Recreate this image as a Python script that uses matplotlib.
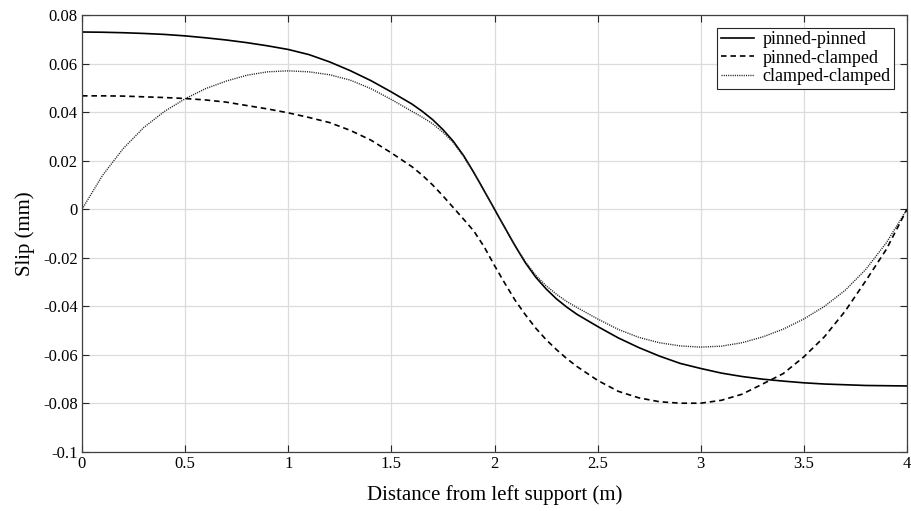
import matplotlib
matplotlib.use("Agg")
import matplotlib.pyplot as plt

plt.rcParams['font.family'] = ['Liberation Serif', 'DejaVu Serif']
plt.rcParams['axes.unicode_minus'] = False
plt.rcParams['lines.scale_dashes'] = False

x = [0.0, 0.1, 0.2, 0.3, 0.4, 0.5, 0.6, 0.7, 0.8, 0.9,
     1.0, 1.1, 1.2, 1.3, 1.4, 1.5, 1.6, 1.65, 1.7, 1.75, 1.8, 1.85, 1.9, 1.95,
     2.0, 2.05, 2.1, 2.15, 2.2, 2.25, 2.3, 2.35, 2.4, 2.5, 2.6, 2.7, 2.8, 2.9,
     3.0, 3.1, 3.2, 3.3, 3.4, 3.5, 3.6, 3.7, 3.8, 3.9, 4.0]

pinned_pinned = [0.0730, 0.0729, 0.0727, 0.0724, 0.0720, 0.0714, 0.0706, 0.0697, 0.0686, 0.0673,
                 0.0658, 0.0637, 0.0607, 0.0571, 0.0530, 0.0483, 0.0433, 0.0403, 0.0369, 0.0328,
                 0.0280, 0.0221, 0.0151, 0.0076,
                 0.0000, -0.0076, -0.0151, -0.0221, -0.0280, -0.0328, -0.0369, -0.0403, -0.0433,
                 -0.0483, -0.0530, -0.0570, -0.0605, -0.0635,
                 -0.0656, -0.0675, -0.0689, -0.0700, -0.0708, -0.0715, -0.0720, -0.0723, -0.0726, -0.0727, -0.0728]

pinned_clamped = [0.0467, 0.0467, 0.0466, 0.0463, 0.0460, 0.0456, 0.0450, 0.0441, 0.0427, 0.0413,
                  0.0397, 0.0378, 0.0357, 0.0325, 0.0285, 0.0232, 0.0175, 0.0140, 0.0100, 0.0055,
                  0.0007, -0.0041, -0.0090, -0.0155,
                  -0.0232, -0.0305, -0.0375, -0.0435, -0.0490, -0.0537, -0.0578, -0.0615, -0.0648,
                  -0.0705, -0.0750, -0.0777, -0.0793, -0.0799,
                  -0.0799, -0.0787, -0.0762, -0.0720, -0.0677, -0.0608, -0.0525, -0.0420, -0.0295, -0.0165, 0.0000]

clamped_clamped = [0.0000, 0.0140, 0.0250, 0.0337, 0.0403, 0.0455, 0.0497, 0.0528, 0.0552, 0.0566,
                   0.0570, 0.0566, 0.0554, 0.0532, 0.0497, 0.0452, 0.0403, 0.0379, 0.0352, 0.0317,
                   0.0275, 0.0217, 0.0150, 0.0076,
                   0.0000, -0.0076, -0.0150, -0.0217, -0.0272, -0.0315, -0.0350, -0.0380, -0.0405,
                   -0.0452, -0.0495, -0.0528, -0.0550, -0.0563,
                   -0.0568, -0.0564, -0.0550, -0.0526, -0.0494, -0.0452, -0.0400, -0.0334, -0.0248, -0.0138, 0.0000]

xticks = [0, 0.5, 1, 1.5, 2, 2.5, 3, 3.5, 4]
xticklabels = ['0', '0.5', '1', '1.5', '2', '2.5', '3', '3.5', '4']
yticks = [0.08, 0.06, 0.04, 0.02, 0, -0.02, -0.04, -0.06, -0.08, -0.1]
yticklabels = ['0.08', '0.06', '0.04', '0.02', '0', '-0.02', '-0.04', '-0.06', '-0.08', '-0.1']

fig = plt.figure(figsize=(9.11, 5.11), dpi=100)
ax = fig.add_axes([82/911, 1 - 452/511, (907-82)/911, (452-15)/511])

ax.plot(x, pinned_pinned, color='black', lw=1.2, ls='-', label='pinned-pinned')
ax.plot(x, pinned_clamped, color='black', lw=1.2, ls=(0, (4, 2.8)), label='pinned-clamped')
ax.plot(x, clamped_clamped, color='#222222', lw=1.0, ls=(0, (0.8, 0.8)), label='clamped-clamped')

ax.set_xlim(0, 4)
ax.set_ylim(-0.1, 0.08)
ax.set_xticks(xticks)
ax.set_xticklabels(xticklabels)
ax.set_yticks(yticks)
ax.set_yticklabels(yticklabels)
ax.grid(True, color='#dcdcdc', lw=0.9)
ax.set_axisbelow(True)
ax.tick_params(direction='in', length=5, width=0.8, top=True, right=True,
               labelsize=12, colors='#262626', labelcolor='black', pad=3)
for s in ax.spines.values():
    s.set_color('#404040')
    s.set_linewidth(0.9)

ax.set_xlabel('Distance from left support (m)', fontsize=15, labelpad=9)
ax.set_ylabel('Slip (mm)', fontsize=15, labelpad=6)

leg = ax.legend(loc='upper right', fontsize=13, frameon=True, fancybox=False,
                edgecolor='#262626', framealpha=1, borderpad=0.2, labelspacing=0.08,
                handlelength=1.8, handletextpad=0.5, borderaxespad=0.7)
leg.get_frame().set_linewidth(0.8)

fig.savefig('out.png', dpi=100)
